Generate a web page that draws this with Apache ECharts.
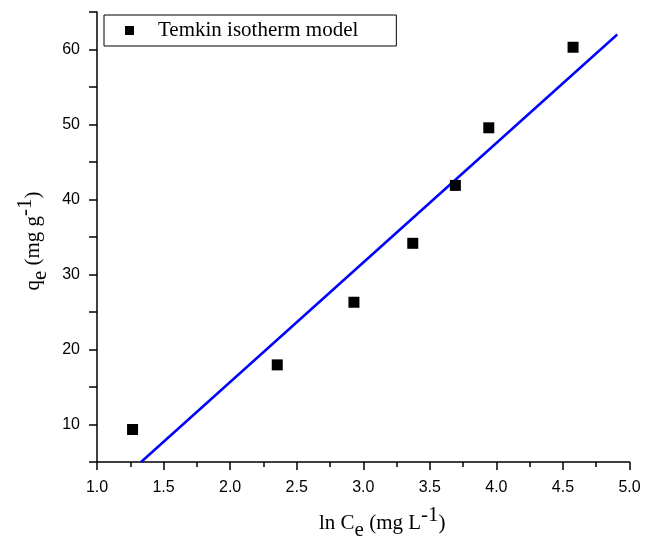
<!DOCTYPE html>
<html>
<head>
<meta charset="utf-8">
<script src="https://cdn.jsdelivr.net/npm/echarts@6/dist/echarts.min.js"></script>
<style>html,body{margin:0;padding:0;background:#fff}#c{width:653px;height:542px}</style>
</head>
<body>
<div id="c"></div>
<script>
// Data
const lnCe = [1.267, 2.354, 2.93, 3.372, 3.692, 3.943, 4.576];
const qe = [9.33, 17.95, 26.3, 34.16, 41.88, 49.56, 60.3];
// Temkin linear fit (endpoints of drawn line)
const fitX = [1.331, 4.908];
const fitY = [5.0, 62.0];
const seriesName = 'Temkin isotherm model';

const chart = echarts.init(document.getElementById('c'));
const serif = '"Liberation Serif", "Times New Roman", serif';
const sans = '"Liberation Sans", Arial, sans-serif';
const titleRich = {
  a: { fontFamily: serif, fontSize: 21, color: '#000' },
  s: { fontFamily: serif, fontSize: 21, color: '#000', verticalAlign: 'top', padding: [15, 0, 0, 0] },
  p: { fontFamily: serif, fontSize: 21, color: '#000', verticalAlign: 'bottom', padding: [0, 0, 15, 0] }
};
chart.setOption({
  animation: false,
  backgroundColor: '#fff',
  grid: { left: 97, right: 23.5, top: 12, bottom: 80, outerBoundsMode: 'none', containLabel: false },
  legend: {
    data: [seriesName],
    left: 104, top: 15,
    orient: 'vertical',
    borderColor: '#000', borderWidth: 1,
    padding: [5, 38, 5, 21],
    itemWidth: 9, itemHeight: 9,
    icon: 'rect',
    textStyle: { fontFamily: serif, fontSize: 21, color: '#000', padding: [0, 0, 0, 19] }
  },
  xAxis: {
    type: 'value', min: 1, max: 5, interval: 0.5,
    name: '{a|ln C}{s|e}{a| (mg L}{p|-1}{a|)}',
    nameLocation: 'middle', nameGap: 43,
    nameTextStyle: { rich: titleRich, padding: [0, 0, 0, 38] },
    axisLine: { show: true, lineStyle: { color: '#000', width: 1.5 } },
    axisTick: { show: true, inside: false, length: 8, lineStyle: { color: '#000', width: 1.5 } },
    minorTick: { show: true, splitNumber: 2, length: 5, lineStyle: { color: '#000', width: 1.5 } },
    axisLabel: { fontFamily: sans, fontSize: 16, color: '#000', margin: 18, formatter: v => v.toFixed(1) },
    splitLine: { show: false }
  },
  yAxis: {
    type: 'value', min: 5, max: 65, interval: 5,
    name: '{a|q}{s|e}{a| (mg g}{p|-1}{a|)}',
    nameLocation: 'middle', nameGap: 43,
    nameRotate: 90,
    nameTextStyle: { rich: titleRich, padding: [0, 8, 0, 0] },
    axisLine: { show: true, lineStyle: { color: '#000', width: 1.5 } },
    axisTick: { show: true, inside: false, length: 8, lineStyle: { color: '#000', width: 1.5 } },
    axisLabel: {
      fontFamily: sans, fontSize: 16, color: '#000', margin: 17,
      formatter: v => (v % 10 === 0 ? String(v) : '')
    },
    splitLine: { show: false }
  },
  series: [
    {
      name: seriesName, type: 'scatter',
      symbol: 'rect', symbolSize: 11,
      itemStyle: { color: '#000', opacity: 1 },
      data: lnCe.map((x, i) => [x, qe[i]]),
      z: 3
    },
    {
      name: 'fit', type: 'line',
      showSymbol: false, symbol: 'none',
      lineStyle: { color: '#0000ff', width: 2.5 },
      data: fitX.map((x, i) => [x, fitY[i]]),
      z: 2
    }
  ]
});
</script>
</body>
</html>
